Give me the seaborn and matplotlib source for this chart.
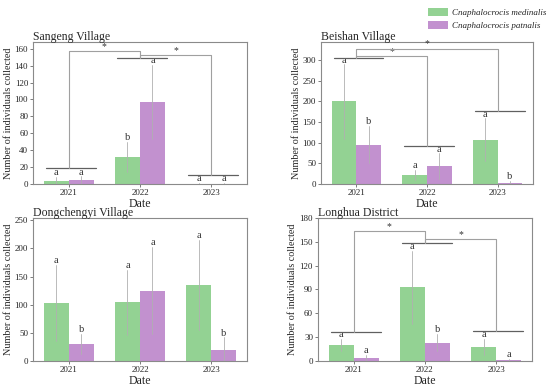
import numpy as np
import pandas as pd
import matplotlib
matplotlib.use("Agg")
import matplotlib.pyplot as plt
import seaborn as sns
from matplotlib.patches import Patch

# ---------------- data ----------------
years = ["2021", "2022", "2023"]
species = ["Cnaphalocrocis medinalis", "Cnaphalocrocis patnalis"]
sites = ["Sangeng Village", "Beishan Village", "Dongchengyi Village", "Longhua District"]

sangeng_med = [4, 32, 0.5]
sangeng_med_err = [4, 18, 0.5]
sangeng_pat = [5, 97, 0.5]
sangeng_pat_err = [4, 44, 0.5]
sangeng_med_letters = ["a", "b", "a"]
sangeng_pat_letters = ["a", "a", "a"]

beishan_med = [200, 22, 107]
beishan_med_err = [90, 12, 52]
beishan_pat = [95, 43, 3]
beishan_pat_err = [45, 31, 5]
beishan_med_letters = ["a", "a", "a"]
beishan_pat_letters = ["b", "a", "b"]

dongchengyi_med = [103, 104, 135]
dongchengyi_med_err = [68, 58, 80]
dongchengyi_pat = [30, 125, 20]
dongchengyi_pat_err = [18, 77, 22]
dongchengyi_med_letters = ["a", "a", "a"]
dongchengyi_pat_letters = ["b", "a", "b"]

longhua_med = [20, 93, 18]
longhua_med_err = [8, 46, 10]
longhua_pat = [4, 23, 1]
longhua_pat_err = [4, 11, 2]
longhua_med_letters = ["a", "a", "a"]
longhua_pat_letters = ["a", "b", "a"]

ytick_sets = [np.arange(0, 161, 20), np.arange(0, 301, 50),
              np.arange(0, 251, 50), np.arange(0, 181, 30)]
ylims = [168, 344, 254, 180]

# significance annotations (layout)
group_lines = [[19, 149, 11], [306, 92, 178], None, [36, 148, 38]]
pair_brackets = [[(0, 1, 157), (1, 2, 153)],
                 [(0, 1, 310), (0, 2, 328)],
                 [],
                 [(0, 1, 164), (1, 2, 154)]]

# ---------------- style ----------------
sns.set_theme(style="white")
plt.rcParams["font.family"] = ["Liberation Serif", "DejaVu Serif"]
GREEN = "#93d293"
PURPLE = "#c291cf"
palette = [GREEN, PURPLE]

fig = plt.figure(figsize=(5.5, 3.87), dpi=100)
rects = [(0.060, 0.5245, 0.389, 0.367), (0.5836, 0.5245, 0.3855, 0.367),
         (0.060, 0.0672, 0.389, 0.3695), (0.578, 0.0672, 0.389, 0.3695)]

site_data = [
    (sangeng_med, sangeng_med_err, sangeng_pat, sangeng_pat_err, sangeng_med_letters, sangeng_pat_letters),
    (beishan_med, beishan_med_err, beishan_pat, beishan_pat_err, beishan_med_letters, beishan_pat_letters),
    (dongchengyi_med, dongchengyi_med_err, dongchengyi_pat, dongchengyi_pat_err, dongchengyi_med_letters, dongchengyi_pat_letters),
    (longhua_med, longhua_med_err, longhua_pat, longhua_pat_err, longhua_med_letters, longhua_pat_letters),
]

for k, (site, rect) in enumerate(zip(sites, rects)):
    med, med_err, pat, pat_err, med_let, pat_let = site_data[k]
    ax = fig.add_axes(rect)
    df = pd.DataFrame({
        "Date": years * 2,
        "Species": [species[0]] * 3 + [species[1]] * 3,
        "Value": list(med) + list(pat),
        "Err": list(med_err) + list(pat_err),
        "Letter": list(med_let) + list(pat_let),
    })
    sns.barplot(data=df, x="Date", y="Value", hue="Species", hue_order=species,
                order=years, palette=palette, errorbar=None, width=0.7,
                linewidth=0, legend=False, ax=ax, saturation=1)
    ymax = ylims[k]
    # error bars + letters at bar centres (patch order: hue level, then category)
    bars = [p for p in ax.patches]
    for p, (_, row) in zip(bars, df.iterrows()):
        xc = p.get_x() + p.get_width() / 2
        lo = max(row.Value - row.Err, 0)
        hi = row.Value + row.Err
        ax.plot([xc, xc], [lo, hi], color="#b0b0b0", lw=0.6, zorder=3)
        ax.text(xc, hi + 0.03 * ymax, row.Letter, ha="center", va="center",
                fontsize=7.5, color="#333333", zorder=4)
    # significance brackets
    gl = group_lines[k]
    if gl is not None:
        for i, h in enumerate(gl):
            ax.plot([i - 0.32, i + 0.38], [h, h], color="#606060", lw=0.9, zorder=4)
        for (i, j, top) in pair_brackets[k]:
            ax.plot([i, i, j, j], [gl[i], top, top, gl[j]], color="#a0a0a0", lw=0.8, zorder=4)
            ax.text((i + j) / 2, top, "*", ha="center", va="bottom",
                    fontsize=7, color="#333333")
    ax.set_ylim(0, ymax)
    ax.set_xlim(-0.5, 2.5)
    ax.set_yticks(ytick_sets[k])
    ax.tick_params(axis="both", labelsize=6.5, length=2, width=0.6, color="#666666",
                   pad=1.5, left=True, bottom=True)
    for s in ax.spines.values():
        s.set_color("#8a8a8a")
        s.set_linewidth(0.8)
    ax.set_xlabel("Date", fontsize=8.5, labelpad=0.5)
    ax.set_ylabel("Number of individuals collected", fontsize=7.3, labelpad=1.5)
    ax.set_title(site, loc="left", fontsize=8.5, pad=1.5)

# legend
handles = [Patch(facecolor=c, edgecolor="none") for c in palette]
fig.legend(handles, species, loc="upper right", bbox_to_anchor=(1.005, 0.995),
           frameon=False, prop={"family": "Liberation Serif", "style": "italic", "size": 6.5},
           handlelength=2.2, handleheight=1.0, handletextpad=0.5, labelspacing=0.35,
           borderpad=0.2)

fig.savefig("out.png", dpi=100)
